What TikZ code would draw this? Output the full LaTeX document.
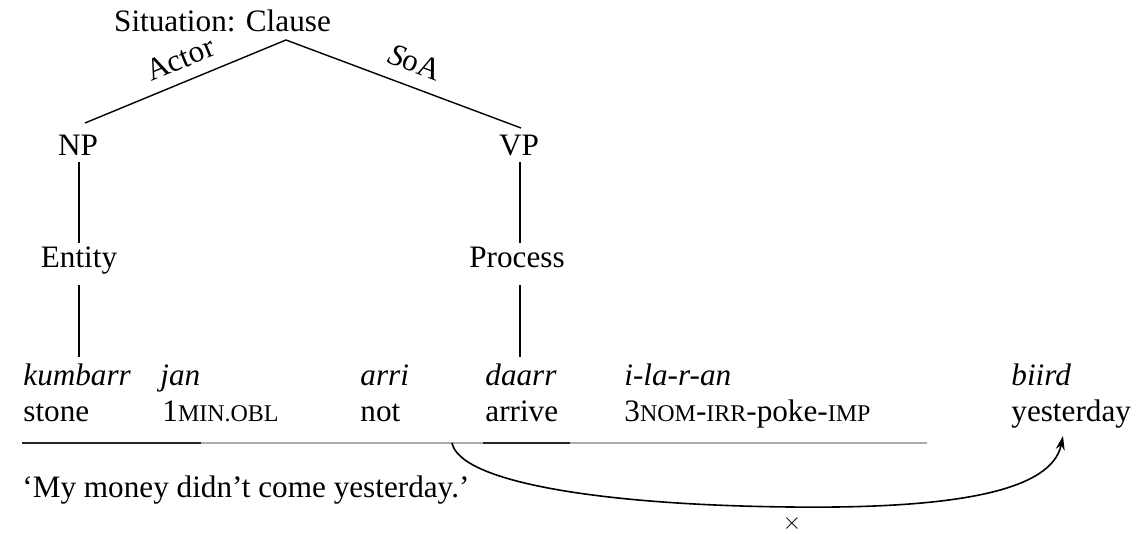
\documentclass[tikz,border=0pt]{standalone}
\usepackage{fontspec}
\setmainfont{Liberation Serif}
\usetikzlibrary{arrows.meta}
\newcommand{\smc}[1]{{\fontsize{12}{14}\selectfont #1}}
\begin{document}
\begin{tikzpicture}[x=0.5pt,y=-0.5pt,
  every node/.style={font=\fontsize{15.6}{18}\selectfont, inner sep=0pt},
  tree/.style={line width=0.7pt},
  lab/.style={anchor=base},
  word/.style={anchor=base west, font=\fontsize{15.6}{18}\selectfont\itshape},
  gloss/.style={anchor=base west},
  baseln/.style={line width=0.9pt}
]
\useasboundingbox (0,0) rectangle (1141,534);
% tree
\node[lab] (sit) at (222.5,32) {Situation: Clause};
\coordinate (apex) at (286,40);
\node[lab] (np) at (78,156) {NP};
\node[lab] (vp) at (519,156) {VP};
\coordinate (npt) at (85,123);
\coordinate (vpt) at (521,128);
\draw[tree] (npt) -- (apex) -- (vpt);
\node[rotate=22.5] (actor) at (180,59) {Actor};
\node[rotate=-20.5] (soa) at (415,62) {\textit{S}oA};
\node[lab] (entity) at (79,268) {Entity};
\node[lab] (process) at (517,268) {Process};
\coordinate (np1) at (79,162);
\coordinate (en0) at (79,243);
\coordinate (en1) at (79,285);
\coordinate (ku0) at (79,357);
\coordinate (vp1) at (520,162);
\coordinate (pr0) at (520,243);
\coordinate (pr1) at (520,285);
\coordinate (da0) at (520,357);
\draw[tree] (np1) -- (en0);
\draw[tree] (vp1) -- (pr0);
\draw[tree] (en1) -- (ku0);
\draw[tree] (pr1) -- (da0);
% words
\node[word] (w1) at (23,386) {kumbarr};
\node[word] (w2) at (160,386) {jan};
\node[word] (w3) at (360,386) {arri};
\node[word] (w4) at (485,386) {daarr};
\node[word] (w5) at (624,386) {i-la-r-an};
\node[word] (w6) at (1011,386) {biird};
\node[gloss] (g1) at (23,422) {stone};
\node[gloss] (g2) at (162,422) {1\smc{MIN.OBL}};
\node[gloss] (g3) at (360,422) {not};
\node[gloss] (g4) at (485,422) {arrive};
\node[gloss] (g5) at (624,422) {3\smc{NOM}-\smc{IRR}-poke-\smc{IMP}};
\node[gloss] (g6) at (1011,422) {yesterday};
% base line
\coordinate (l0) at (22,443);
\coordinate (l1) at (201,443);
\coordinate (l2) at (483,443);
\coordinate (l3) at (570,443);
\coordinate (l4) at (927,443);
\draw[gray!65, baseln] (l0) -- (l4);
\draw[black!85, baseln] (l0) -- (l1);
\draw[black!85, baseln] (l2) -- (l3);
% free translation
\node[gloss] (tr) at (22,497) {`My money didn't come yesterday.'};
% arc
\coordinate (c0) at (452,443);
\coordinate (cb) at (790,507);
\coordinate (c1) at (1063,436);
\draw[line width=0.8pt, -{Stealth[length=7pt,width=4.5pt]}] (c0) .. controls (460,482) and (600,505) .. (cb) .. controls (960,509) and (1052,490) .. (c1);
\node (x) at (792,523) {\fontsize{12}{12}\selectfont$\times$};
\end{tikzpicture}
\end{document}
